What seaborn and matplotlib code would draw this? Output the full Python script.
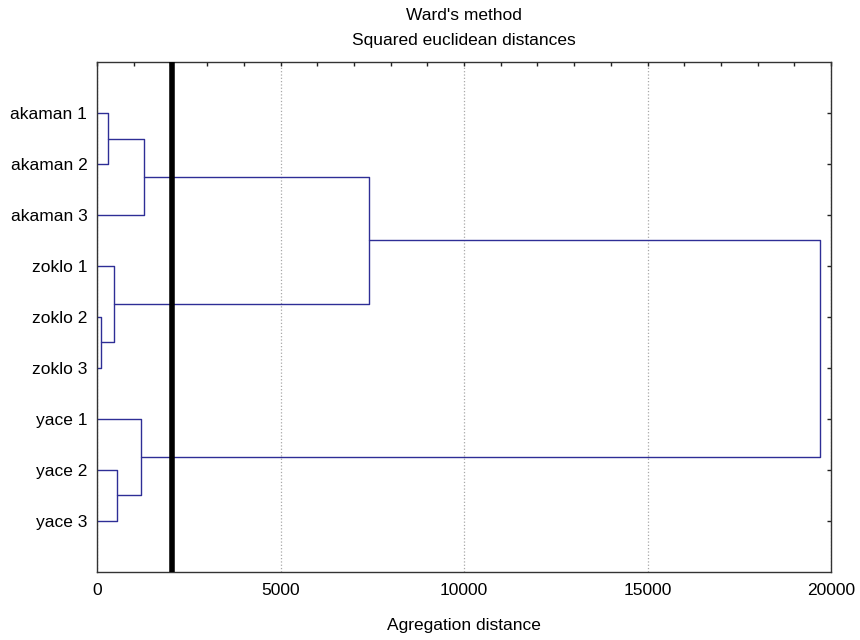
import pandas as pd
import matplotlib.pyplot as plt
import seaborn as sns

# --- Ward's method dendrogram (horizontal) ---

leaves = ["akaman 1", "akaman 2", "akaman 3",
          "zoklo 1", "zoklo 2", "zoklo 3",
          "yace 1", "yace 2", "yace 3"]

# merges, scipy style: leaves are 0..8, each merge makes a new id 9, 10, ...
merge_a = [0, 4, 7, 9, 3, 6, 12, 15]
merge_b = [1, 5, 8, 2, 10, 11, 13, 14]
merge_h = [310, 110, 550, 1290, 450, 1190, 7400, 19700]

cut_distance = 2030

# build the U-shaped links
pos_y = {i: i + 1 for i in range(len(leaves))}
pos_x = {i: 0 for i in range(len(leaves))}
rows = []
for k, (a, b, h) in enumerate(zip(merge_a, merge_b, merge_h)):
    new_id = len(leaves) + k
    pts = [(pos_x[a], pos_y[a]), (h, pos_y[a]), (h, pos_y[b]), (pos_x[b], pos_y[b])]
    for order, (x, y) in enumerate(pts):
        rows.append({"link": k, "order": order, "x": x, "y": y})
    pos_x[new_id] = h
    pos_y[new_id] = (pos_y[a] + pos_y[b]) / 2
links = pd.DataFrame(rows)

sns.set_style("white")
plt.rcParams["font.family"] = ["Liberation Sans", "DejaVu Sans"]
plt.rcParams["text.color"] = "black"
plt.rcParams["axes.labelcolor"] = "black"
plt.rcParams["xtick.color"] = "black"
plt.rcParams["ytick.color"] = "black"

fig = plt.figure(figsize=(8.6, 6.4), dpi=100)
ax = fig.add_axes([0.1128, 0.1063, 0.8535, 0.7968])

sns.lineplot(data=links, x="x", y="y", units="link", estimator=None, sort=False,
             color="#2e2e96", linewidth=1.0, ax=ax, legend=False)

ax.axvline(cut_distance, color="black", linewidth=4, zorder=5)

ax.set_xlim(0, 20000)
ax.set_ylim(len(leaves) + 1, 0)
ax.set_xticks([0, 5000, 10000, 15000, 20000])
ax.set_xticks(range(0, 20001, 1000), minor=True)
ax.set_yticks(range(1, len(leaves) + 1))
ax.set_yticklabels(leaves)

ax.grid(axis="x", which="major", linestyle=":", color="#a8a8a8", linewidth=0.9)
ax.tick_params(axis="both", which="both", direction="in", length=3, width=1,
               top=True, right=True, labelsize=12.5, color="#222222")
ax.tick_params(axis="x", pad=8)
ax.tick_params(axis="y", pad=7)

for sp in ax.spines.values():
    sp.set_color("#333333")
    sp.set_linewidth(1.0)

ax.set_xlabel("Agregation distance", fontsize=12.5, labelpad=14)
ax.set_ylabel("")
ax.set_title("Ward's method\nSquared euclidean distances", fontsize=12.5,
             linespacing=1.9, pad=12)

plt.savefig("out.png", dpi=100)
